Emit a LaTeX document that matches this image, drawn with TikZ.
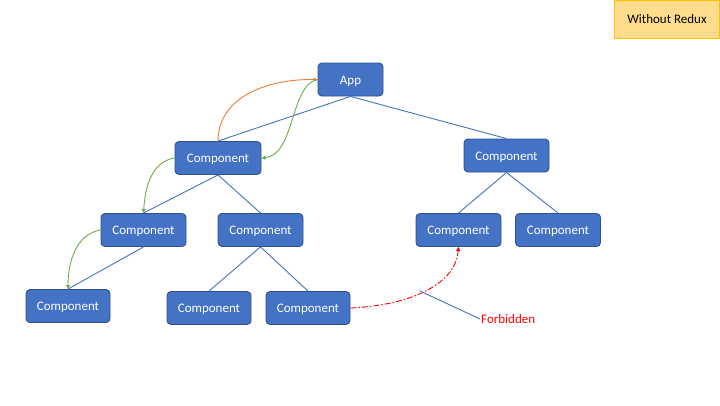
\documentclass[tikz,border=0pt]{standalone}
\usepackage{fontspec}
\setmainfont{Carlito}
\usetikzlibrary{arrows.meta}
\definecolor{boxblue}{HTML}{4472C4}
\definecolor{boxedge}{HTML}{2F528F}
\definecolor{arrgreen}{HTML}{70AD47}
\definecolor{arrorange}{HTML}{ED7D31}
\definecolor{notefill}{HTML}{FFDC8C}
\definecolor{noteedge}{HTML}{FFC000}
\tikzset{
  comp/.style={draw=boxedge, fill=boxblue, rounded corners=4pt, line width=0.9pt,
    text=white, font=\fontsize{13}{15}\selectfont, minimum height=33pt, inner sep=0pt,
    text height=9pt, text depth=0pt},
  tree/.style={draw=boxblue, line width=0.9pt},
  green arr/.style={draw=arrgreen, line width=0.9pt, -{Triangle[length=4pt,width=4pt]}},
  orange arr/.style={draw=arrorange, line width=0.9pt, -{Triangle[length=4pt,width=4pt]}},
  red arr/.style={draw=red, line width=0.9pt, dash pattern=on 6pt off 2pt on 1.5pt off 2pt, -{Triangle[length=4pt,width=4pt]}}
}
\begin{document}
\begin{tikzpicture}[x=1pt,y=-1pt]
\useasboundingbox[fill=white] (0,0) rectangle (720,405);
\node[draw=noteedge, fill=notefill, line width=0.9pt, minimum width=105pt, minimum height=38pt, inner sep=0pt, text height=9pt, text depth=0pt, font=\fontsize{13}{15}\selectfont] (note) at (667,19) {Without Redux};

\node[comp, minimum width=65pt] (app) at (350.5,79.5) {App};
\node[comp, minimum width=86pt] (c1) at (218,158) {Component};
\node[comp, minimum width=85pt] (c2) at (506.5,155.5) {Component};
\node[comp, minimum width=85pt] (c11) at (143.5,230) {Component};
\node[comp, minimum width=85pt] (c12) at (260.5,230) {Component};
\node[comp, minimum width=85pt] (c21) at (458.5,230) {Component};
\node[comp, minimum width=85pt] (c22) at (558,230) {Component};
\node[comp, minimum width=84pt] (c111) at (68,306) {Component};
\node[comp, minimum width=84pt] (c121) at (209,308) {Component};
\node[comp, minimum width=84pt] (c122) at (308,308) {Component};

\draw[tree] (app.south) -- (c1.north);
\draw[tree] (app.south) -- (c2.north);
\draw[tree] (c1.south) -- (c11.north);
\draw[tree] (c1.south) -- (c12.north);
\draw[tree] (c11.south) -- (c111.north);
\draw[tree] (c12.south) -- (c121.north);
\draw[tree] (c12.south) -- (c122.north);
\draw[tree] (c2.south) -- (c21.north);
\draw[tree] (c2.south) -- (c22.north);

\draw[orange arr] (c1.north) .. controls (218,100) and (262,79) .. (app.west);
\draw[green arr] (app.west) .. controls (290,85) and (295,155) .. (c1.east);
\draw[green arr] (c1.west) .. controls (150,162) and (145,190) .. (c11.north);
\draw[green arr] (c11.west) .. controls (76,234) and (68,262) .. (c111.north);
\draw[red arr] (c122.east) .. controls (415,305) and (456,282) .. (c21.south);

\coordinate (fb) at (420,291);
\node[text=red, font=\fontsize{13}{15}\selectfont, anchor=west, inner sep=1pt] (forb) at (480,319) {Forbidden};
\draw[tree] (fb) -- (forb.west);
\end{tikzpicture}
\end{document}
